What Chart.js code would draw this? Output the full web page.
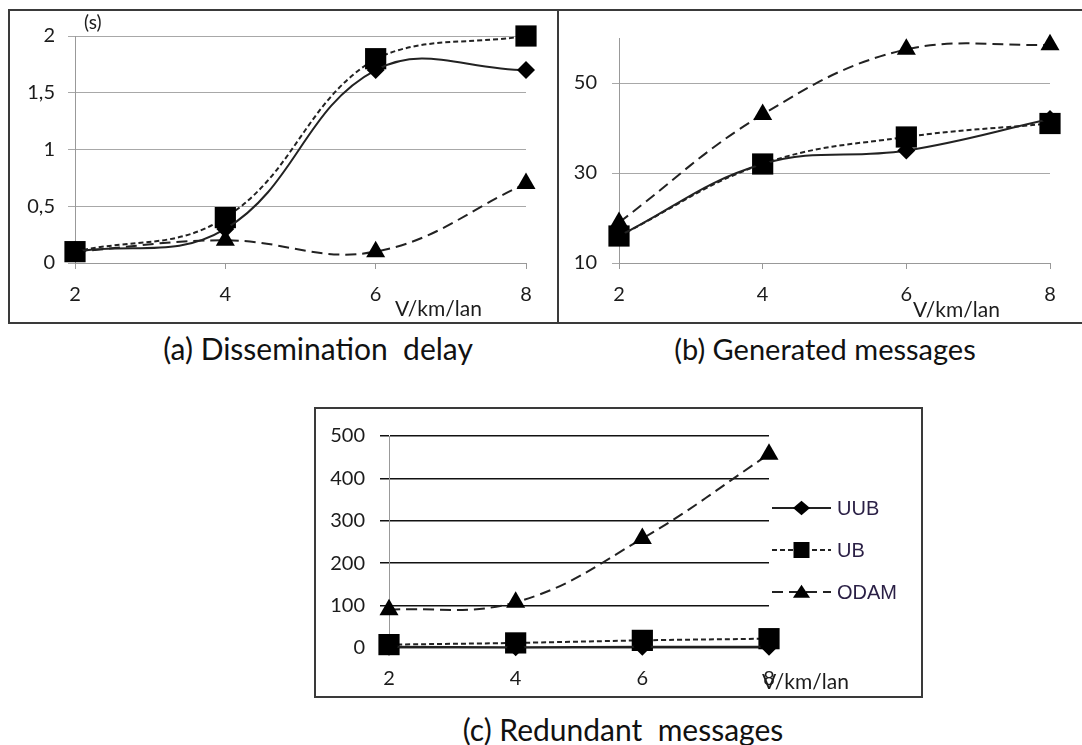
<!DOCTYPE html>
<html>
<head>
<meta charset="utf-8">
<script src="https://cdn.jsdelivr.net/npm/chart.js@4/dist/chart.umd.min.js"></script>
<style>
  body { margin: 0; background: #fff; width: 1082px; height: 745px; position: relative; overflow: hidden; font-family: Lato, "Open Sans", sans-serif; }
  .box { position: absolute; border: 2px solid #3a3a3a; box-sizing: border-box; background: #fff; overflow: hidden; }
  .box canvas { display: block; }
  .cap { position: absolute; font-size: 30px; line-height: 36px; color: #111; white-space: pre; transform: translateX(-50%); }
</style>
</head>
<body>
<div class="box" style="left:8px;top:9px;width:551px;height:315px"><canvas id="delay" width="547" height="311"></canvas></div>
<div class="box" style="left:557px;top:9px;width:540px;height:315px"><canvas id="generated" width="536" height="311"></canvas></div>
<div class="box" style="left:314px;top:407px;width:609px;height:291px"><canvas id="redundant" width="605" height="287"></canvas></div>
<div class="cap" style="left:318px;top:330px">(a) Dissemination  delay</div>
<div class="cap" style="left:825px;top:331px;font-size:29px">(b) Generated messages</div>
<div class="cap" style="left:623px;top:711px">(c) Redundant  messages</div>
<script>
// speed categories (x axis) and series names
const speeds = ['2', '4', '6', '8'];
const seriesNames = ['UUB', 'UB', 'ODAM'];

// (a) dissemination delay, seconds
const delayUUB = [0.1, 0.3, 1.7, 1.7];
const delayUB = [0.1, 0.4, 1.8, 2.0];
const delayODAM = [0.1, 0.2, 0.1, 0.7];
const delayTicks = [0, 0.5, 1, 1.5, 2];

// (b) generated messages
const genUUB = [16, 32, 35, 42];
const genUB = [16, 32, 38, 41];
const genODAM = [19, 43, 57.5, 58.5];
const genTicks = [10, 30, 50];

// (c) redundant messages
const redUUB = [3, 2, 3, 3];
const redUB = [8, 12, 18, 22];
const redODAM = [90, 108, 258, 457];
const redTicks = [0, 100, 200, 300, 400, 500];

const FONT = 'Lato, "Open Sans", sans-serif';
const INK = '#1c1c1c';

// line styles per series: solid / short dash / long dash
const styles = [
  { dash: [], point: 'rectRot', r: 9, legendR: 8.5 },
  { dash: [5, 3], point: 'rect', r: 15, legendR: 8 },
  { dash: [11, 6], point: 'triangle', r: 11, legendR: 9 }
];

function makeDatasets(series) {
  return series.map((data, i) => ({
    label: seriesNames[i],
    data: data,
    borderColor: '#222',
    borderWidth: 2,
    borderDash: styles[i].dash,
    pointStyle: styles[i].point,
    pointRadius: styles[i].r,
    pointBackgroundColor: '#000',
    pointBorderWidth: 0,
    tension: 0.4,
    clip: false
  }));
}

// small free text on the canvas: unit and axis captions
const notes = {
  id: 'notes',
  afterDraw(chart, args, opts) {
    const ctx = chart.ctx;
    ctx.save();
    (opts.items || []).forEach(n => {
      ctx.font = n.size + 'px ' + FONT;
      ctx.fillStyle = INK;
      ctx.textBaseline = 'middle';
      ctx.textAlign = 'left';
      ctx.fillText(n.text, n.x, n.y);
    });
    ctx.restore();
  }
};

function marker(ctx, style, r, x, y) {
  ctx.beginPath();
  if (style === 'rect') {
    ctx.rect(x - r, y - r, 2 * r, 2 * r);
  } else if (style === 'rectRot') {
    ctx.moveTo(x, y - r * 0.85); ctx.lineTo(x + r, y); ctx.lineTo(x, y + r * 0.85); ctx.lineTo(x - r, y);
  } else {
    ctx.moveTo(x, y - r * 0.8); ctx.lineTo(x + r * 0.95, y + r * 0.65); ctx.lineTo(x - r * 0.95, y + r * 0.65);
  }
  ctx.closePath();
  ctx.fill();
}

// legend drawn as line + marker + name, like the series themselves
const lineLegend = {
  id: 'lineLegend',
  afterDraw(chart, args, opts) {
    if (!opts.x) return;
    const ctx = chart.ctx;
    chart.data.datasets.forEach((ds, i) => {
      const y = opts.top + i * opts.gap;
      ctx.save();
      ctx.strokeStyle = ds.borderColor;
      ctx.lineWidth = 2;
      ctx.setLineDash(ds.borderDash);
      ctx.beginPath();
      ctx.moveTo(opts.x, y);
      ctx.lineTo(opts.x + opts.len, y);
      ctx.stroke();
      ctx.setLineDash([]);
      ctx.fillStyle = '#000';
      marker(ctx, ds.pointStyle, styles[i].legendR, opts.x + opts.len / 2, y);
      ctx.font = '20px "Liberation Sans", Arial, sans-serif';
      ctx.fillStyle = '#2a1f45';
      ctx.textBaseline = 'middle';
      ctx.fillText(ds.label, opts.x + opts.len + 6, y + 1);
      ctx.restore();
    });
  }
};

Chart.register(notes, lineLegend);

function makeOptions(cfg) {
  return {
    responsive: false,
    animation: false,
    layout: { padding: { top: cfg.top, right: cfg.right, left: 0, bottom: 0 } },
    plugins: {
      legend: { display: false },
      tooltip: { enabled: false },
      notes: { items: cfg.notes },
      lineLegend: cfg.legend || {}
    },
    scales: {
      x: {
        type: 'category',
        offset: false,
        afterFit: s => { s.height = cfg.xHeight; },
        grid: { drawOnChartArea: false, tickLength: 6, color: '#999' },
        border: { color: '#999' },
        ticks: { font: { family: FONT, size: 20 }, color: INK, padding: cfg.xPad, maxRotation: 0, autoSkip: false }
      },
      y: {
        min: cfg.min,
        max: cfg.max,
        afterFit: s => { s.width = cfg.yWidth; },
        afterBuildTicks: s => { s.ticks = cfg.ticks.map(v => ({ value: v })); },
        grid: { color: cfg.gridColor, lineWidth: cfg.gridWidth, tickLength: cfg.tick || 7 },
        border: { color: '#999' },
        ticks: {
          font: { family: FONT, size: 20 },
          color: INK,
          padding: cfg.yPad,
          callback: v => String(v).replace('.', ',')
        }
      }
    }
  };
}

new Chart(document.getElementById('delay'), {
  type: 'line',
  data: { labels: speeds, datasets: makeDatasets([delayUUB, delayUB, delayODAM]) },
  options: makeOptions({
    top: 24, right: 31, xHeight: 59, yWidth: 65, xPad: 14, yPad: 13,
    min: 0, max: 2, ticks: delayTicks, gridColor: '#a8a8a8', gridWidth: 1,
    notes: [
      { text: '(s)', x: 74, y: 12, size: 19 },
      { text: 'V/km/lan', x: 385, y: 298, size: 21 }
    ]
  })
});

new Chart(document.getElementById('generated'), {
  type: 'line',
  data: { labels: speeds, datasets: makeDatasets([genUUB, genUB, genODAM]) },
  options: makeOptions({
    top: 24, right: 45, xHeight: 59, yWidth: 60, xPad: 14, yPad: 15,
    min: 10, max: 60, ticks: genTicks, gridColor: '#a8a8a8', gridWidth: 1,
    notes: [
      { text: 'V/km/lan', x: 354, y: 299, size: 21 }
    ]
  })
});

new Chart(document.getElementById('redundant'), {
  type: 'line',
  data: { labels: speeds, datasets: makeDatasets([redUUB, redUB, redODAM]) },
  options: makeOptions({
    top: 17, right: 152, xHeight: 48, yWidth: 73, xPad: 13, yPad: 15, tick: 9,
    min: 0, max: 500, ticks: redTicks, gridColor: '#111', gridWidth: 1.5,
    notes: [
      { text: 'V/km/lan', x: 446, y: 273, size: 21 }
    ],
    legend: { x: 456, len: 59, top: 99, gap: 42 }
  })
});
</script>
</body>
</html>
